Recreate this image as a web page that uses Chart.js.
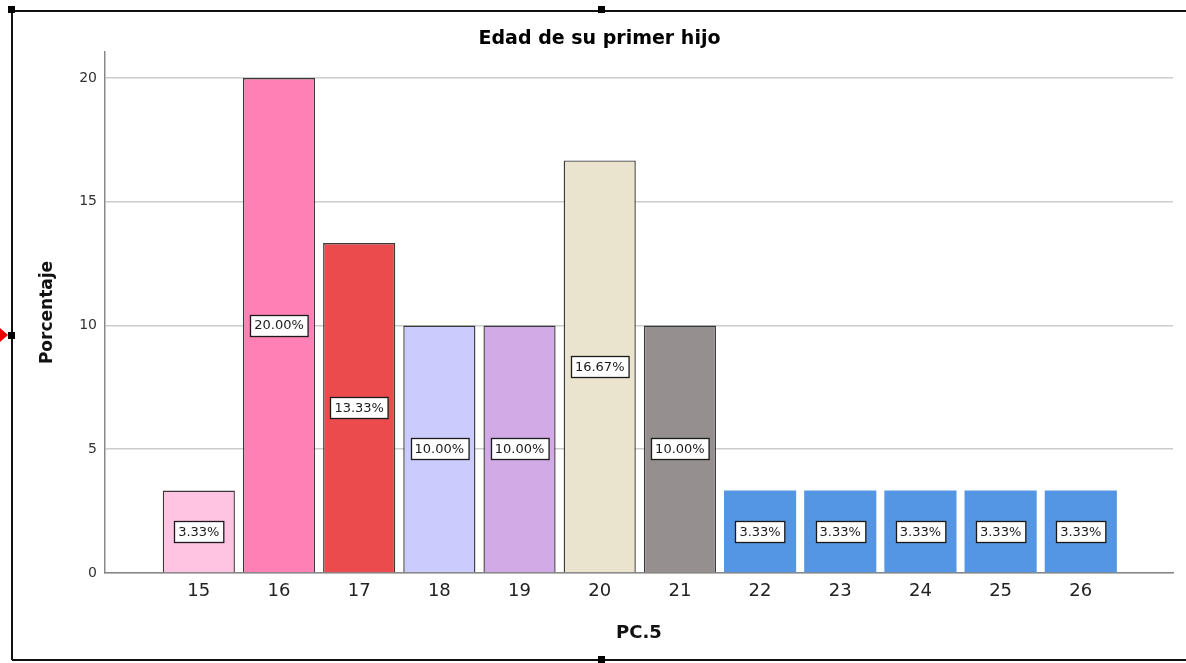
<!DOCTYPE html>
<html>
<head>
<meta charset="utf-8">
<script src="https://cdn.jsdelivr.net/npm/chart.js@4"></script>
<style>
    body { margin: 0; background: #fff; }
    #wrap { position: relative; width: 1186px; height: 663px; overflow: hidden; }
    #chart { position: absolute; left: 0; top: 0; }
    .frame { position: absolute; background: #111; }
    .handle { position: absolute; width: 7px; height: 7px; background: #000; }
    .arrow { position: absolute; left: 0; top: 328px; width: 0; height: 0;
        border-top: 7px solid transparent; border-bottom: 7px solid transparent; border-left: 8px solid #e00; }
</style>
</head>
<body>
<div id="wrap">
    <canvas id="chart" width="1186" height="663"></canvas>
    <div class="frame" style="left:12px;top:10px;width:1174px;height:1.5px"></div>
    <div class="frame" style="left:12px;top:659px;width:1174px;height:1.5px"></div>
    <div class="frame" style="left:11px;top:10px;width:1.5px;height:650px"></div>
    <div class="handle" style="left:8px;top:6px"></div>
    <div class="handle" style="left:598px;top:6px"></div>
    <div class="handle" style="left:8px;top:332px"></div>
    <div class="handle" style="left:598px;top:656px"></div>
    <div class="arrow"></div>
</div>
<script>
    const ages = [15, 16, 17, 18, 19, 20, 21, 22, 23, 24, 25, 26];
    const percents = [3.33, 20.00, 13.33, 10.00, 10.00, 16.67, 10.00, 3.33, 3.33, 3.33, 3.33, 3.33];
    const barColors = ['#FFC4E1', '#FF80B4', '#EC4B4D', '#CBCBFE', '#D1AAE6', '#EAE3CE', '#958F8F',
        '#5496E3', '#5496E3', '#5496E3', '#5496E3', '#5496E3'];
    const yTicks = [0, 5, 10, 15, 20];

    const fontFamily = '"DejaVu Sans", sans-serif';

    // white boxed percentage labels in the middle of each bar
    const boxLabels = {
        id: 'boxLabels',
        afterDatasetsDraw(chart) {
            const ctx = chart.ctx;
            const meta = chart.getDatasetMeta(0);
            ctx.save();
            ctx.font = '13px ' + fontFamily;
            ctx.textAlign = 'center';
            ctx.textBaseline = 'middle';
            meta.data.forEach((bar, i) => {
                const text = percents[i].toFixed(2) + '%';
                const cy = (bar.y + bar.base) / 2;
                const w = ctx.measureText(text).width + 8;
                const h = 21;
                const x0 = Math.round(bar.x - w / 2) + 0.5;
                const y0 = Math.round(cy - h / 2) + 0.5;
                ctx.fillStyle = '#fff';
                ctx.fillRect(x0, y0, w, h);
                ctx.strokeStyle = '#1a1a1a';
                ctx.lineWidth = 1.3;
                ctx.strokeRect(x0, y0, w, h);
                ctx.fillStyle = '#1a1a1a';
                ctx.fillText(text, bar.x, cy + 1);
            });
            ctx.restore();
        }
    };

    new Chart(document.getElementById('chart'), {
        type: 'bar',
        data: {
            datasets: [{
                data: ages.map((a, i) => ({x: a, y: percents[i]})),
                backgroundColor: barColors,
                borderColor: '#3a3a3a',
                borderWidth: barColors.map((c, i) => i < 7 ? 1.4 : 0),
                barPercentage: 0.9,
                categoryPercentage: 1.0
            }]
        },
        options: {
            responsive: false,
            animation: false,
            layout: {
                padding: {top: 0, left: 26, right: 13, bottom: 0}
            },
            plugins: {
                legend: {display: false},
                tooltip: {enabled: false},
                title: {
                    display: true,
                    text: 'Edad de su primer hijo',
                    color: '#000',
                    font: {family: fontFamily, size: 19, weight: 'bold'},
                    padding: {top: 27.6, bottom: 1.6}
                }
            },
            scales: {
                x: {
                    type: 'linear',
                    min: 13.83,
                    max: 27.15,
                    offset: false,
                    grid: {display: false, drawTicks: false},
                    border: {display: true, color: '#888', width: 1.5},
                    afterBuildTicks: (scale) => {
                        scale.ticks = ages.map(v => ({value: v}));
                    },
                    afterFit: (scale) => { scale.height = 90; },
                    ticks: {
                        autoSkip: false,
                        maxRotation: 0,
                        padding: 8,
                        color: '#222',
                        font: {family: fontFamily, size: 18}
                    },
                    title: {
                        display: true,
                        text: 'PC.5',
                        color: '#111',
                        font: {family: fontFamily, size: 18, weight: 'bold'},
                        padding: {top: 0, bottom: 19}
                    }
                },
                y: {
                    min: 0,
                    max: 21.05,
                    grid: {color: '#cccccc', lineWidth: 1.5, drawTicks: false},
                    border: {display: true, color: '#888', width: 1.5},
                    afterBuildTicks: (scale) => {
                        scale.ticks = yTicks.map(v => ({value: v}));
                    },
                    afterFit: (scale) => { scale.width = 79; },
                    ticks: {
                        padding: 8,
                        color: '#333',
                        font: {family: fontFamily, size: 14}
                    },
                    title: {
                        display: true,
                        text: 'Porcentaje',
                        color: '#111',
                        font: {family: fontFamily, size: 17, weight: 'bold'},
                        padding: {top: 11.8, bottom: 0}
                    }
                }
            }
        },
        plugins: [boxLabels]
    });
</script>
</body>
</html>
